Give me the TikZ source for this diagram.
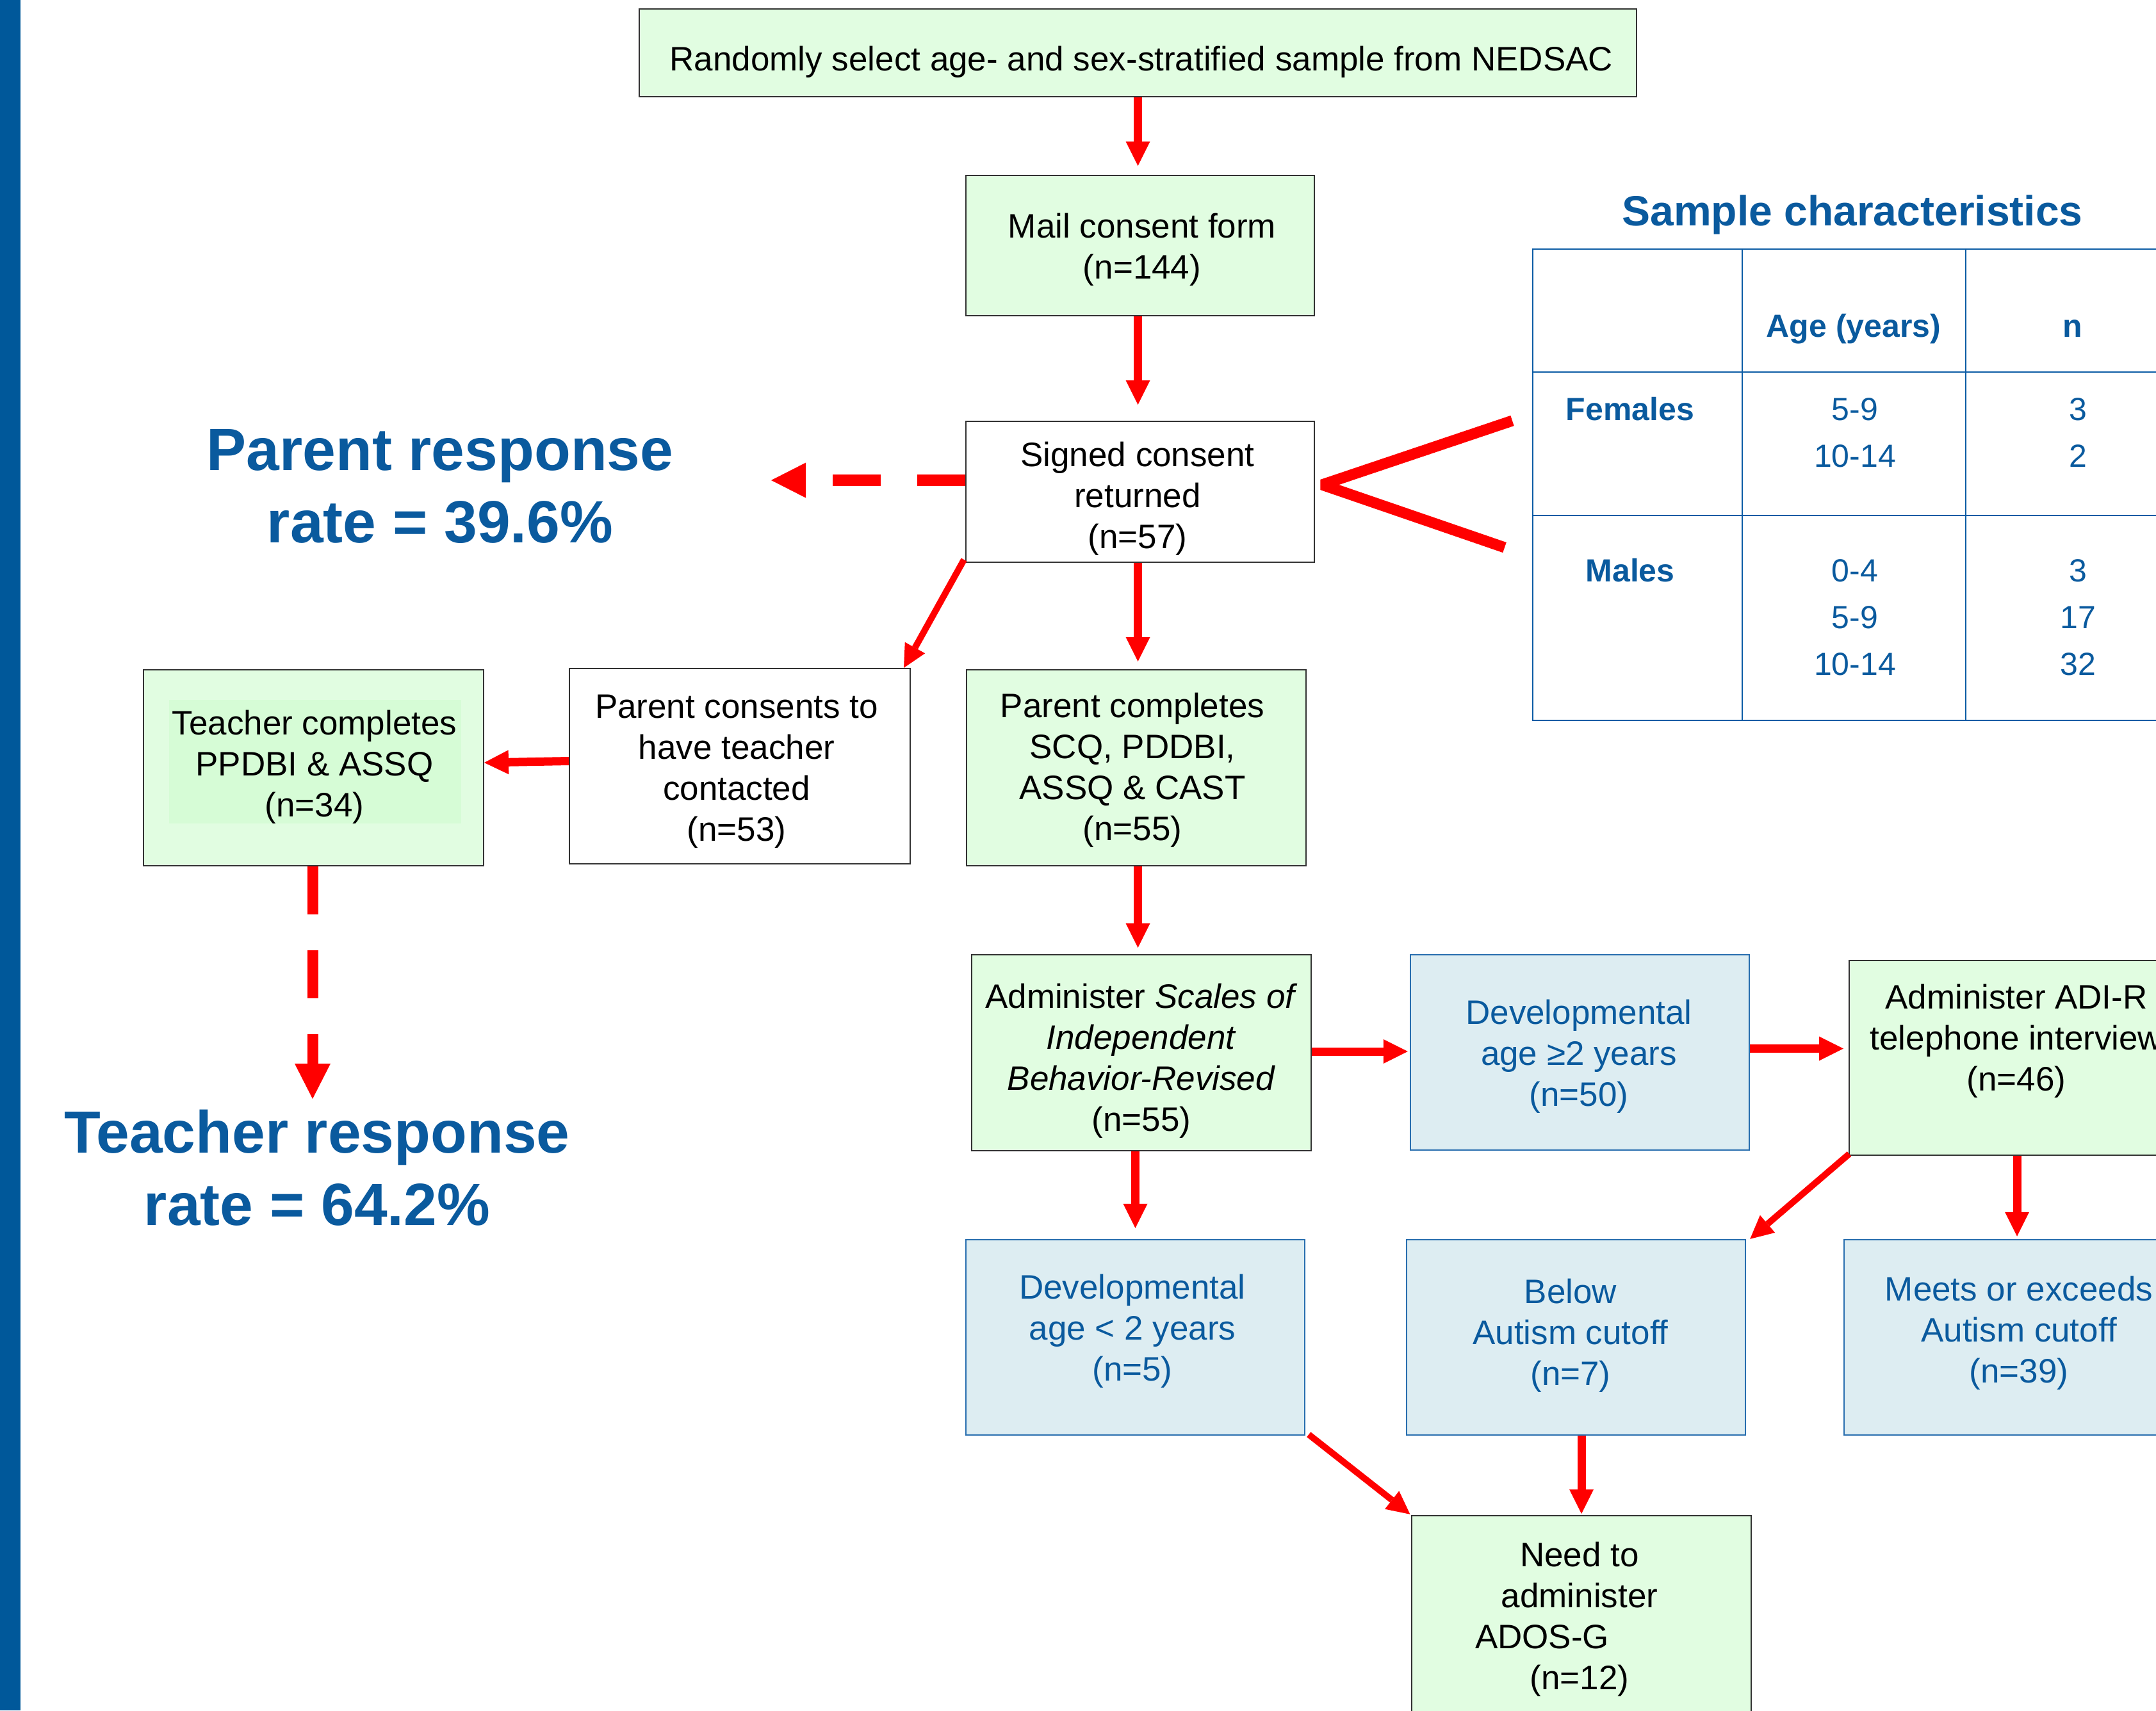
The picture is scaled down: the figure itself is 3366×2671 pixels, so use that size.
\documentclass[tikz,border=0pt]{standalone}
\usepackage{fontspec}
\setmainfont{Liberation Sans}
\usetikzlibrary{arrows.meta,calc}
\definecolor{boxgreen}{RGB}{225,253,225}
\definecolor{innergreen}{RGB}{214,252,214}
\definecolor{boxblue}{RGB}{221,237,242}
\definecolor{bordblue}{RGB}{40,110,175}
\definecolor{tabblue}{RGB}{12,92,165}
\definecolor{txtblue}{RGB}{10,90,158}
\definecolor{barblue}{RGB}{0,88,154}
\definecolor{boxline}{RGB}{50,50,50}
\newcommand{\dgBody}{\fontsize{26.5pt}{32pt}\selectfont}
\newcommand{\dgBig}{\bfseries\fontsize{46.5pt}{56.75pt}\selectfont}
\newcommand{\dgTitle}{\bfseries\fontsize{33pt}{40pt}\selectfont}
\newcommand{\dgTab}{\fontsize{25pt}{30pt}\selectfont}
\begin{document}
\begin{tikzpicture}[x=0.5pt,y=-0.5pt,
  gbox/.style={draw=boxline, fill=boxgreen, line width=1pt, inner sep=0pt},
  wbox/.style={draw=boxline, fill=white, line width=1pt, inner sep=0pt},
  bbox/.style={draw=bordblue, fill=boxblue, line width=1.2pt, inner sep=0pt},
  txt/.style={align=center, inner sep=0pt, anchor=north, font=\dgBody},
  btxt/.style={txt, text=txtblue},
  bigtxt/.style={align=center, inner sep=0pt, anchor=north, font=\dgBig, text=txtblue},
  tab/.style={inner sep=0pt, anchor=base, font=\dgTab, text=txtblue},
  tabb/.style={tab, font=\dgTab\bfseries},
  tabline/.style={draw=tabblue, line width=1.2pt},
  arr/.style={draw=red, line width=6.5pt, -{Triangle[length=19pt,width=19pt,line width=0pt]}},
  darr/.style={draw=red, line width=5pt, -{Triangle[length=18pt,width=18pt,line width=0pt]}},
  pdash/.style={draw=red, line width=9pt, dash pattern=on 37.5pt off 28.5pt, -{Triangle[length=27pt,width=27.5pt,line width=0pt]}},
  tdash/.style={draw=red, line width=8.5pt, dash pattern=on 37.5pt off 28pt, -{Triangle[length=27.5pt,width=28pt,line width=0pt]}},
  anglecon/.style={draw=red, line width=8.5pt, line join=bevel, line cap=butt}
]
\useasboundingbox (0,0) rectangle (3366,2671);
\fill[white] (0,0) rectangle (3366,2671);
\clip (0,0) rectangle (3366,2671);
\fill[barblue] (0,0) rectangle (32,2671);

% boxes
\node[gbox, minimum width=778.5pt, minimum height=68.5pt] (top) at (1776.5,82.5) {};
\node[gbox, minimum width=272pt, minimum height=109.5pt] (mail) at (1780,383.5) {};
\node[wbox, minimum width=272pt, minimum height=110pt] (signed) at (1780,768) {};
\node[wbox, minimum width=266pt, minimum height=152.5pt] (pcons) at (1155,1196.5) {};
\node[gbox, minimum width=265.5pt, minimum height=153pt] (teacher) at (489.5,1199) {};
\fill[innergreen] (264,1093) rectangle (720,1286);
\node[gbox, minimum width=265pt, minimum height=153pt] (pcomp) at (1774,1199) {};
\node[gbox, minimum width=265pt, minimum height=153pt] (sib) at (1782,1644) {};
\node[bbox, minimum width=264.5pt, minimum height=152.5pt] (dev2) at (2466.5,1643.5) {};
\node[gbox, minimum width=265pt, minimum height=152pt] (adir) at (3152,1652) {};
\node[bbox, minimum width=264.5pt, minimum height=152.5pt] (devl) at (1772.5,2088.5) {};
\node[bbox, minimum width=264.5pt, minimum height=152.5pt] (below) at (2460.5,2088.5) {};
\node[bbox, minimum width=265pt, minimum height=152.5pt] (meets) at (3144,2088.5) {};
\node[gbox, minimum width=265pt, minimum height=153pt] (need) at (2469,2520) {};

% texts
\node[txt] (toptxt) at (1782,65.2) {\strut Randomly select age- and sex-stratified sample from NEDSAC};
\node[txt] (mailtxt) at (1783,326.2) {\strut Mail consent form\\(n=144)};
\node[txt] (signedtxt) at (1776,683.2) {\strut Signed consent\\returned\\(n=57)};
\node[txt] (pconstxt) at (1150,1076.2) {\strut Parent consents to\\have teacher\\contacted\\(n=53)};
\node[txt] (teachertxt) at (491,1102.2) {\strut Teacher completes\\PPDBI \& ASSQ\\(n=34)};
\node[txt] (pcomptxt) at (1768,1075.2) {\strut Parent completes\\SCQ, PDDBI,\\ASSQ \& CAST\\(n=55)};
\node[txt] (sibtxt) at (1782,1529.2) {\strut Administer \textit{Scales of}\\\textit{Independent}\\\textit{Behavior-Revised}\\(n=55)};
\node[btxt] (dev2txt) at (2465,1554.2) {\strut Developmental\\age ≥2 years\\(n=50)};
\node[txt] (adirtxt) at (3148,1530.2) {\strut Administer ADI-R\\telephone interview\\(n=46)};
\node[btxt] (devltxt) at (1768,1983.2) {\strut Developmental\\age < 2 years\\(n=5)};
\node[btxt] (belowtxt) at (2452,1990.2) {\strut Below\\Autism cutoff\\(n=7)};
\node[btxt] (meetstxt) at (3152,1986.2) {\strut Meets or exceeds\\Autism cutoff\\(n=39)};
\node[txt] (needtxt) at (2466,2401.2) {\strut Need to\\administer\\\makebox[163pt][l]{ADOS-G}\\(n=12)};

\node[bigtxt] (presp) at (687,654.5) {\strut Parent response\\rate = 39.6\%};
\node[bigtxt] (tresp) at (495,1720.5) {\strut Teacher response\\rate = 64.2\%};

% table
\node[tab, font=\dgTitle] (ttitle) at (2892,352) {Sample characteristics};
\draw[tabline] (2393,389) rectangle (3420,1125);
\draw[tabline] (2720,389) -- (2720,1125);
\draw[tabline] (3069,389) -- (3069,1125);
\draw[tabline] (2393,581) -- (3420,581);
\draw[tabline] (2393,805) -- (3420,805);
\node[tabb] (hage) at (2894,526) {Age (years)};
\node[tabb] (hn) at (3236,526) {n};
\node[tabb] (fem) at (2545,656) {Females};
\node[tab] (f1a) at (2896,656) {5-9};
\node[tab] (f2a) at (2896,729) {10-14};
\node[tab] (f1n) at (3244,656) {3};
\node[tab] (f2n) at (3244,729) {2};
\node[tabb] (mal) at (2545,908) {Males};
\node[tab] (m1a) at (2896,908) {0-4};
\node[tab] (m2a) at (2896,981) {5-9};
\node[tab] (m3a) at (2896,1054) {10-14};
\node[tab] (m1n) at (3244,908) {3};
\node[tab] (m2n) at (3244,981) {17};
\node[tab] (m3n) at (3244,1054) {32};

% connectors
\draw[arr, shorten >=7pt] (top.south) -- (top.south |- mail.north);
\draw[arr, shorten >=12.5pt] (top.south |- mail.south) -- (top.south |- signed.north);
\draw[arr, shorten >=6pt] (top.south |- signed.south) -- (top.south |- pcomp.north);
\draw[darr] ($(signed.south west)+(-2,-5)$) -- ($(pcons.north east)+(-11,0)$);
\draw[arr] ([yshift=4pt]pcons.west) -- ([yshift=4pt]teacher.east);
\coordinate (ttip) at (488,1716);
\draw[tdash] (teacher.south -| ttip) -- (ttip);
\coordinate (ptip) at (1204,750);
\draw[pdash] ([yshift=9pt]signed.west) -- (ptip);
\draw[arr, shorten >=5pt] (top.south |- pcomp.south) -- (top.south |- sib.north);
\draw[arr, shorten >=1.5pt] ([yshift=1pt]sib.east) -- ([yshift=1pt]sib.east -| dev2.west);
\draw[arr, shorten >=4pt] ([yshift=3pt]dev2.east) -- ([yshift=3pt]dev2.east -| adir.west);
\draw[arr, shorten >=8.5pt] (devl.north |- sib.south) -- (devl.north);
\draw[darr] ($(adir.south west)+(1,-3)$) -- ($(below.north east)+(6,0)$);
\draw[arr, shorten >=2pt] ([xshift=2.5pt]meets.north |- adir.south) -- ([xshift=2.5pt]meets.north);
\draw[darr, shorten >=1pt] ($(devl.south east)+(5,-2)$) -- (need.north west);
\draw[arr, shorten >=1pt] (need.north |- below.south) -- (need.north);
\coordinate (angA) at (2361,657);
\coordinate (angB) at (2064,757);
\coordinate (angC) at (2349,855);
\draw[anglecon] (angA) -- (angB) -- (angC);
\end{tikzpicture}
\end{document}
